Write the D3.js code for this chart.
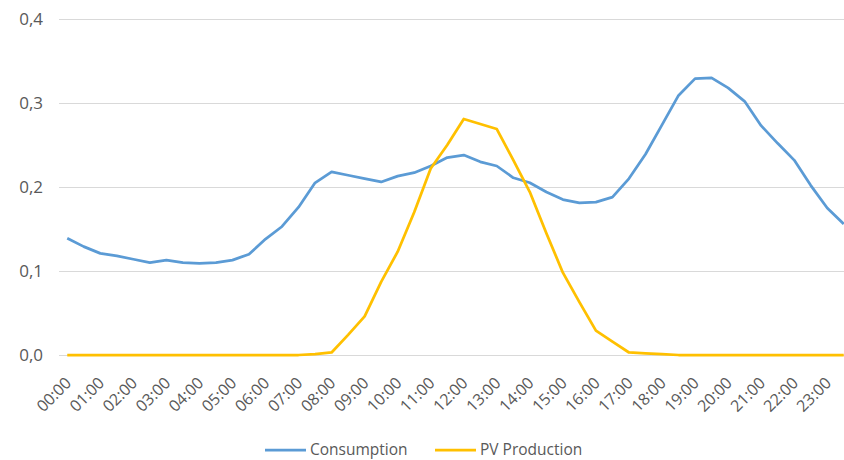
<!DOCTYPE html>
<html>
<head>
<meta charset="utf-8">
<script src="https://cdn.jsdelivr.net/npm/d3@7"></script>
<style>
  body { margin: 0; background: #fff; }
  svg { display: block; }
  .tick text, .lbl { font-family: "Open Sans", sans-serif; fill: #595959; }
</style>
</head>
<body>
<div id="chart"></div>
<script>
// half-hourly time slots
var slots = [];
for (var h = 0; h < 24; h++) {
    var hh = (h < 10 ? "0" : "") + h;
    slots.push(hh + ":00");
    slots.push(hh + ":30");
}
var hourLabels = ["00:00","01:00","02:00","03:00","04:00","05:00","06:00","07:00","08:00","09:00","10:00","11:00",
                  "12:00","13:00","14:00","15:00","16:00","17:00","18:00","19:00","20:00","21:00","22:00","23:00"];
var yTicks = [0, 0.1, 0.2, 0.3, 0.4];

var consumption = [0.139,0.129,0.121,0.118,0.114,0.110,0.113,0.110,0.109,0.110,0.113,0.120,
                   0.138,0.153,0.176,0.205,0.218,0.214,0.210,0.206,0.213,0.217,0.225,0.235,
                   0.238,0.230,0.225,0.211,0.205,0.194,0.185,0.181,0.182,0.188,0.210,0.239,
                   0.274,0.309,0.329,0.330,0.318,0.302,0.273,0.252,0.232,0.202,0.175,0.156];
var pvProduction = [0,0,0,0,0,0,0,0,0,0,0,0,
                    0,0,0,0.001,0.003,0.024,0.046,0.087,0.123,0.170,0.222,0.250,
                    0.281,0.275,0.269,0.232,0.194,0.145,0.098,0.063,0.029,0.016,0.003,0.002,
                    0.001,0,0,0,0,0,0,0,0,0,0,0];

var seriesNames = ["Consumption", "PV Production"];
var seriesColors = ["#5B9BD5", "#FFC000"];

var width = 844, height = 460;
var margin = {left: 59, right: -8, top: 19, bottom: 105};

var svg = d3.select("#chart").append("svg")
    .attr("width", width)
    .attr("height", height);

var xScale = d3.scaleBand()
    .domain(slots)
    .range([margin.left, width - margin.right]);

var yScale = d3.scaleLinear()
    .domain([0, 0.4])
    .range([height - margin.bottom, margin.top]);

var fmt = function(d) { return d3.format(".1f")(d).replace(".", ","); };
var cx = function(i) { return xScale(slots[i]) + xScale.bandwidth() / 2; };

// gridlines + y labels
var yAxis = d3.axisLeft(yScale)
    .tickValues(yTicks)
    .tickFormat(fmt)
    .tickSize(-(width - margin.right - margin.left))
    .tickPadding(16);

var gy = svg.append("g")
    .attr("transform", `translate(${margin.left},0)`)
    .call(yAxis);
gy.select(".domain").remove();
gy.selectAll(".tick line").attr("stroke", "#D9D9D9").attr("stroke-width", 1.2);
gy.selectAll(".tick text").style("font-size", "17px");

// x labels (every full hour)
var xAxis = d3.axisBottom(xScale)
    .tickValues(hourLabels)
    .tickSize(0)
    .tickPadding(0);

var gx = svg.append("g")
    .attr("transform", `translate(0,${height - margin.bottom})`)
    .call(xAxis);
gx.select(".domain").remove();
gx.selectAll(".tick text")
    .style("font-size", "16px")
    .attr("text-anchor", "end")
    .attr("transform", "translate(5,29) rotate(-45)")
    .attr("dy", 0)
    .attr("y", 0);

// lines
var line = d3.line()
    .x(function(d, i) { return cx(i); })
    .y(function(d) { return yScale(d); });

[consumption, pvProduction].forEach(function(s, k) {
    svg.append("path")
        .datum(s)
        .attr("fill", "none")
        .attr("stroke", seriesColors[k])
        .attr("stroke-width", 2.75)
        .attr("stroke-linejoin", "round")
        .attr("d", line);
});

// legend
var legendX = [265, 435];
seriesNames.forEach(function(name, k) {
    var g = svg.append("g").attr("transform", `translate(${legendX[k]},450)`);
    g.append("line")
        .attr("x1", 0).attr("x2", 41)
        .attr("stroke", seriesColors[k])
        .attr("stroke-width", 2.75);
    g.append("text")
        .attr("class", "lbl")
        .attr("x", 45)
        .attr("dy", "0.35em")
        .style("font-size", "15.5px")
        .text(name);
});
</script>
</body>
</html>
